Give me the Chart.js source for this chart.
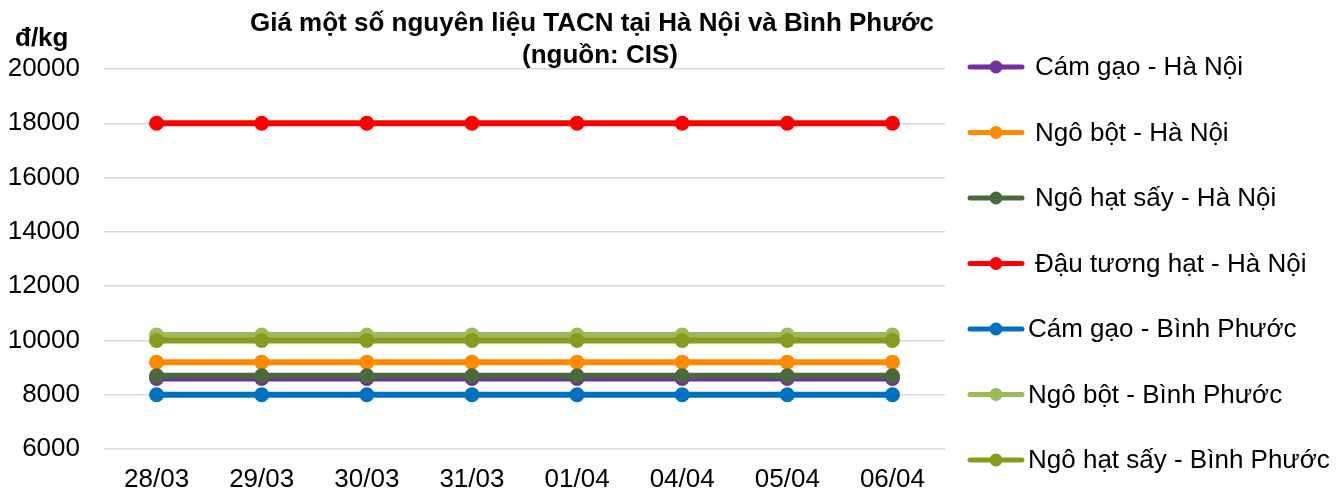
<!DOCTYPE html>
<html>
<head>
<meta charset="utf-8">
<script src="https://cdn.jsdelivr.net/npm/chart.js@4"></script>
<style>
  html, body { margin: 0; padding: 0; background: #fff; }
  #wrap { width: 1341px; height: 492px; }
</style>
</head>
<body>
<div id="wrap"><canvas id="js--chart"></canvas></div>
<script>
const labels = ["28/03", "29/03", "30/03", "31/03", "01/04", "04/04", "05/04", "06/04"];

const seriesNames = [
  "Cám gạo - Hà Nội",
  "Ngô bột - Hà Nội",
  "Ngô hạt sấy - Hà Nội",
  "Đậu tương hạt - Hà Nội",
  "Cám gạo - Bình Phước",
  "Ngô bột - Bình Phước",
  "Ngô hạt sấy - Bình Phước",
];

const camGaoHN = [8600, 8600, 8600, 8600, 8600, 8600, 8600, 8600];
const ngoBotHN = [9200, 9200, 9200, 9200, 9200, 9200, 9200, 9200];
const ngoHatSayHN = [8700, 8700, 8700, 8700, 8700, 8700, 8700, 8700];
const dauTuongHN = [18000, 18000, 18000, 18000, 18000, 18000, 18000, 18000];
const camGaoBP = [8000, 8000, 8000, 8000, 8000, 8000, 8000, 8000];
const ngoBotBP = [10200, 10200, 10200, 10200, 10200, 10200, 10200, 10200];
const ngoHatSayBP = [10000, 10000, 10000, 10000, 10000, 10000, 10000, 10000];

const seriesValues = [camGaoHN, ngoBotHN, ngoHatSayHN, dauTuongHN, camGaoBP, ngoBotBP, ngoHatSayBP];
const colors = ["#7030a0", "#ff8a00", "#4a6a3e", "#ff0000", "#0070c0", "#9bbb59", "#8a9a1e"];

const FONT = "'Liberation Sans', Arial, sans-serif";

const datasets = seriesNames.map(function (name, i) {
  return {
    label: name,
    data: seriesValues[i],
    borderColor: colors[i],
    backgroundColor: colors[i],
    borderWidth: 6,
    pointRadius: 7.5,
    pointHoverRadius: 7.5,
    pointBorderWidth: 0,
    order: seriesNames.length - 1 - i, // later series on top, like Excel
  };
});

// title, unit and the right-hand legend
const textPlugin = {
  id: "texts",
  afterDraw: function (chart) {
    const ctx = chart.ctx;
    ctx.save();
    ctx.fillStyle = "#000";
    ctx.textBaseline = "middle";
    ctx.font = "bold 26px " + FONT;
    ctx.textAlign = "center";
    ctx.fillText("Giá một số nguyên liệu TACN tại Hà Nội và Bình Phước", 592, 24);
    ctx.fillText("(nguồn: CIS)", 600, 56);
    ctx.textAlign = "left";
    ctx.fillText("đ/kg", 15, 39);

    ctx.font = "26px " + FONT;
    chart.data.datasets.forEach(function (ds, i) {
      const y = 67 + i * 65.5;
      ctx.strokeStyle = ds.borderColor;
      ctx.lineWidth = 5;
      ctx.lineCap = "round";
      ctx.beginPath();
      ctx.moveTo(970, y);
      ctx.lineTo(1022, y);
      ctx.stroke();
      ctx.fillStyle = ds.borderColor;
      ctx.beginPath();
      ctx.arc(996, y, 6.5, 0, Math.PI * 2);
      ctx.fill();
      ctx.fillStyle = "#000";
      ctx.fillText(ds.label, i < 4 ? 1035 : 1028, y + 1);
    });
    ctx.restore();
  }
};

const config = {
  type: "line",
  data: { labels: labels, datasets: datasets },
  options: {
    responsive: true,
    maintainAspectRatio: false,
    animation: false,
    layout: { padding: { left: 0, right: 396, top: 69, bottom: 0 } },
    plugins: {
      legend: { display: false },
      title: { display: false },
      tooltip: { enabled: false },
    },
    scales: {
      x: {
        offset: true,
        grid: { display: false },
        border: { display: false },
        ticks: { color: "#000", font: { family: FONT, size: 26 }, padding: 7, maxRotation: 0, autoSkip: false },
        afterFit: function (scale) { scale.height = 43; },
      },
      y: {
        min: 6000,
        max: 20000,
        grid: { color: "#d9d9d9", lineWidth: 1.5, drawTicks: false },
        border: { display: false },
        ticks: {
          stepSize: 2000,
          color: "#000",
          font: { family: FONT, size: 26 },
          padding: 24,
          callback: function (v) { return String(v); },
        },
        afterFit: function (scale) { scale.width = 104; },
      },
    },
  },
  plugins: [textPlugin],
};

new Chart(document.getElementById("js--chart"), config);
</script>
</body>
</html>
